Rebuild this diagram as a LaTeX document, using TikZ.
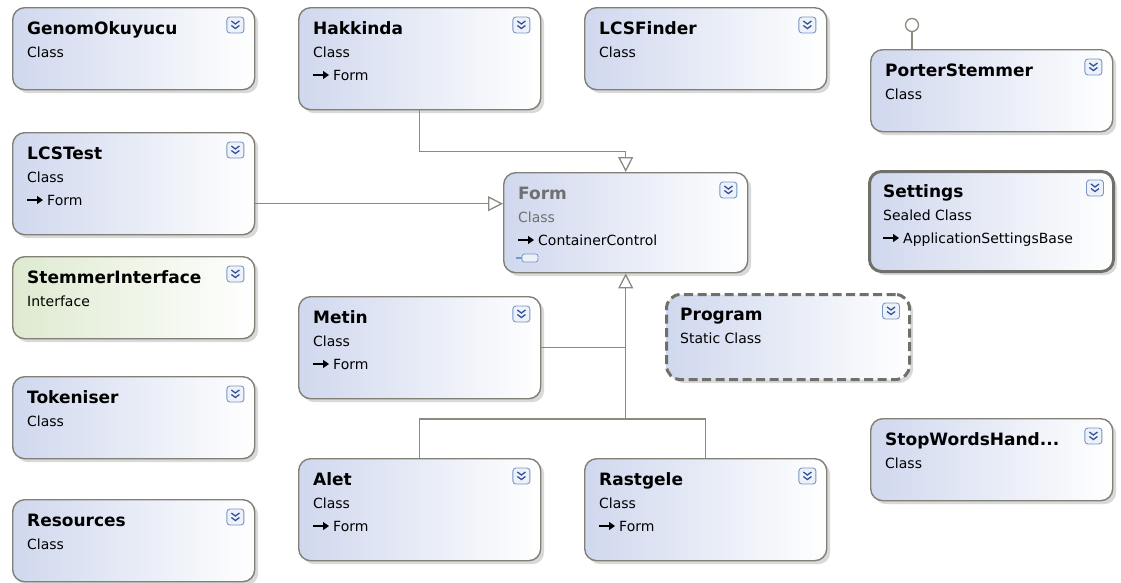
\documentclass[tikz,border=0pt]{standalone}
\usepackage{fontspec}
\setmainfont{DejaVu Sans}
\usetikzlibrary{arrows.meta,shadows}

\definecolor{boxblue}{RGB}{208,216,238}
\definecolor{boxgreen}{RGB}{222,234,208}
\definecolor{boxline}{RGB}{128,128,118}
\definecolor{connline}{RGB}{138,138,128}
\definecolor{heavyline}{RGB}{112,112,106}
\definecolor{expblue}{RGB}{122,150,196}
\definecolor{expfill}{RGB}{236,241,250}
\definecolor{expdark}{RGB}{52,82,150}
\definecolor{greytext}{RGB}{112,112,112}

\tikzset{
  expander/.pic={
    \draw[draw=expblue, fill=expfill, line width=0.9pt, rounded corners=3pt] (-8.5pt,-8pt) rectangle (8.5pt,8pt);
    \draw[expdark, line width=1.3pt] (-4pt,4pt) -- (0,1pt) -- (4pt,4pt) (-4pt,-0.5pt) -- (0,-3.5pt) -- (4pt,-0.5pt);
  },
  inharrow/.pic={
    \draw[line width=1.1pt, -{Triangle[length=6pt, width=8pt]}] (0,0) -- (16pt,0);
  }
}

\begin{document}
\begin{tikzpicture}[x=1pt, y=-1pt,
  box/.style={draw=boxline, line width=1.4pt, rounded corners=12pt, anchor=north west,
    minimum width=242pt, minimum height=82pt, left color=boxblue, right color=white,
    drop shadow={shadow xshift=3.5pt, shadow yshift=-3.5pt, fill=black, opacity=0.15}},
  tall/.style={minimum height=102pt},
  ttl/.style={anchor=base west, inner sep=0pt, font=\fontsize{17}{20}\selectfont\bfseries},
  sub/.style={anchor=base west, inner sep=0pt, font=\fontsize{14}{17}\selectfont},
  conn/.style={draw=connline, line width=1.3pt},
  inh/.style={conn, -{Triangle[length=15pt, width=15pt, fill=white]}}
]
\fill[white] (0,0) rectangle (1121,582);
\useasboundingbox (0,0) rectangle (1121,582);

% left column
\node[box] (genom) at (12,7) {};
\node[ttl] (genomT) at ([xshift=15pt, yshift=-27pt]genom.north west) {GenomOkuyucu};
\node[sub] (genomS) at ([xshift=15pt, yshift=-50pt]genom.north west) {Class};
\pic at ([xshift=-20pt, yshift=-18pt]genom.north east) {expander};

\node[box, tall] (lcstest) at (12,132) {};
\node[ttl] (lcstestT) at ([xshift=15pt, yshift=-27pt]lcstest.north west) {LCSTest};
\node[sub] (lcstestS) at ([xshift=15pt, yshift=-50pt]lcstest.north west) {Class};
\pic at ([xshift=15pt, yshift=-68pt]lcstest.north west) {inharrow};
\node[sub] (lcstestB) at ([xshift=35pt, yshift=-73pt]lcstest.north west) {Form};
\pic at ([xshift=-20pt, yshift=-18pt]lcstest.north east) {expander};

\node[box, left color=boxgreen] (stemmer) at (12,256) {};
\node[ttl] (stemmerT) at ([xshift=15pt, yshift=-27pt]stemmer.north west) {StemmerInterface};
\node[sub] (stemmerS) at ([xshift=15pt, yshift=-50pt]stemmer.north west) {Interface};
\pic at ([xshift=-20pt, yshift=-18pt]stemmer.north east) {expander};

\node[box] (tokeniser) at (12,376) {};
\node[ttl] (tokeniserT) at ([xshift=15pt, yshift=-27pt]tokeniser.north west) {Tokeniser};
\node[sub] (tokeniserS) at ([xshift=15pt, yshift=-50pt]tokeniser.north west) {Class};
\pic at ([xshift=-20pt, yshift=-18pt]tokeniser.north east) {expander};

\node[box] (resources) at (12,499) {};
\node[ttl] (resourcesT) at ([xshift=15pt, yshift=-27pt]resources.north west) {Resources};
\node[sub] (resourcesS) at ([xshift=15pt, yshift=-50pt]resources.north west) {Class};
\pic at ([xshift=-20pt, yshift=-18pt]resources.north east) {expander};

% middle
\node[box, tall] (hakkinda) at (298,7) {};
\node[ttl] (hakkindaT) at ([xshift=15pt, yshift=-27pt]hakkinda.north west) {Hakkinda};
\node[sub] (hakkindaS) at ([xshift=15pt, yshift=-50pt]hakkinda.north west) {Class};
\pic at ([xshift=15pt, yshift=-68pt]hakkinda.north west) {inharrow};
\node[sub] (hakkindaB) at ([xshift=35pt, yshift=-73pt]hakkinda.north west) {Form};
\pic at ([xshift=-20pt, yshift=-18pt]hakkinda.north east) {expander};

\node[box] (lcsfinder) at (584,7) {};
\node[ttl] (lcsfinderT) at ([xshift=15pt, yshift=-27pt]lcsfinder.north west) {LCSFinder};
\node[sub] (lcsfinderS) at ([xshift=15pt, yshift=-50pt]lcsfinder.north west) {Class};
\pic at ([xshift=-20pt, yshift=-18pt]lcsfinder.north east) {expander};

\node[box, minimum width=244pt, minimum height=100pt] (form) at (503,172) {};
\node[ttl, text=greytext] (formT) at ([xshift=15pt, yshift=-27pt]form.north west) {Form};
\node[sub, text=greytext] (formS) at ([xshift=15pt, yshift=-50pt]form.north west) {Class};
\pic at ([xshift=15pt, yshift=-68pt]form.north west) {inharrow};
\node[sub] (formB) at ([xshift=35pt, yshift=-73pt]form.north west) {ContainerControl};
\draw[draw=expblue, fill=expfill, line width=0.8pt, rounded corners=2.5pt]
  ([xshift=19pt, yshift=-82pt]form.north west) rectangle ([xshift=35pt, yshift=-90pt]form.north west);
\draw[expblue, line width=1.5pt] ([xshift=13pt, yshift=-86pt]form.north west) -- ([xshift=19pt, yshift=-86pt]form.north west);
\pic at ([xshift=-20pt, yshift=-18pt]form.north east) {expander};

\node[box, tall] (metin) at (298,296) {};
\node[ttl] (metinT) at ([xshift=15pt, yshift=-27pt]metin.north west) {Metin};
\node[sub] (metinS) at ([xshift=15pt, yshift=-50pt]metin.north west) {Class};
\pic at ([xshift=15pt, yshift=-68pt]metin.north west) {inharrow};
\node[sub] (metinB) at ([xshift=35pt, yshift=-73pt]metin.north west) {Form};
\pic at ([xshift=-20pt, yshift=-18pt]metin.north east) {expander};

\node[box, minimum width=243pt, minimum height=85pt, draw=heavyline, line width=3pt,
  dash pattern=on 9pt off 4.5pt, rounded corners=14pt] (program) at (665,293) {};
\node[ttl] (programT) at ([xshift=15pt, yshift=-27pt]program.north west) {Program};
\node[sub] (programS) at ([xshift=15pt, yshift=-50pt]program.north west) {Static Class};
\pic at ([xshift=-20pt, yshift=-18pt]program.north east) {expander};

\node[box, tall] (alet) at (298,458) {};
\node[ttl] (aletT) at ([xshift=15pt, yshift=-27pt]alet.north west) {Alet};
\node[sub] (aletS) at ([xshift=15pt, yshift=-50pt]alet.north west) {Class};
\pic at ([xshift=15pt, yshift=-68pt]alet.north west) {inharrow};
\node[sub] (aletB) at ([xshift=35pt, yshift=-73pt]alet.north west) {Form};
\pic at ([xshift=-20pt, yshift=-18pt]alet.north east) {expander};

\node[box, tall] (rastgele) at (584,458) {};
\node[ttl] (rastgeleT) at ([xshift=15pt, yshift=-27pt]rastgele.north west) {Rastgele};
\node[sub] (rastgeleS) at ([xshift=15pt, yshift=-50pt]rastgele.north west) {Class};
\pic at ([xshift=15pt, yshift=-68pt]rastgele.north west) {inharrow};
\node[sub] (rastgeleB) at ([xshift=35pt, yshift=-73pt]rastgele.north west) {Form};
\pic at ([xshift=-20pt, yshift=-18pt]rastgele.north east) {expander};

% right column
\node[box] (porter) at (870,49) {};
\node[ttl] (porterT) at ([xshift=15pt, yshift=-27pt]porter.north west) {PorterStemmer};
\node[sub] (porterS) at ([xshift=15pt, yshift=-50pt]porter.north west) {Class};
\pic at ([xshift=-20pt, yshift=-18pt]porter.north east) {expander};
\node[draw=connline, line width=1.3pt, circle, minimum size=13pt, inner sep=0pt, fill=white] (lolly) at (912,25) {};
\draw[conn] (lolly) -- (lolly |- porter.north);

\node[box, minimum width=244pt, minimum height=100pt, draw=heavyline, line width=3pt] (settings) at (868,170) {};
\node[ttl] (settingsT) at ([xshift=15pt, yshift=-27pt]settings.north west) {Settings};
\node[sub] (settingsS) at ([xshift=15pt, yshift=-50pt]settings.north west) {Sealed Class};
\pic at ([xshift=15pt, yshift=-68pt]settings.north west) {inharrow};
\node[sub] (settingsB) at ([xshift=35pt, yshift=-73pt]settings.north west) {ApplicationSettingsBase};
\pic at ([xshift=-20pt, yshift=-18pt]settings.north east) {expander};

\node[box] (stopwords) at (870,418) {};
\node[ttl] (stopwordsT) at ([xshift=15pt, yshift=-27pt]stopwords.north west) {StopWordsHand...};
\node[sub] (stopwordsS) at ([xshift=15pt, yshift=-50pt]stopwords.north west) {Class};
\pic at ([xshift=-20pt, yshift=-18pt]stopwords.north east) {expander};

% inheritance
\draw[inh] (hakkinda.south) -- ++(0,41) -| (form.north);
\coordinate (lcsout) at ([yshift=-20pt]lcstest.east);
\draw[inh] (lcsout) -- (lcsout -| form.west);
\coordinate (join) at (form.south |- 0,419);
\draw[inh] (alet.north) |- (join) -- (form.south);
\draw[conn] (rastgele.north) |- (join);
\draw[conn] (metin.east) -- (metin.east -| form.south);
\end{tikzpicture}
\end{document}
